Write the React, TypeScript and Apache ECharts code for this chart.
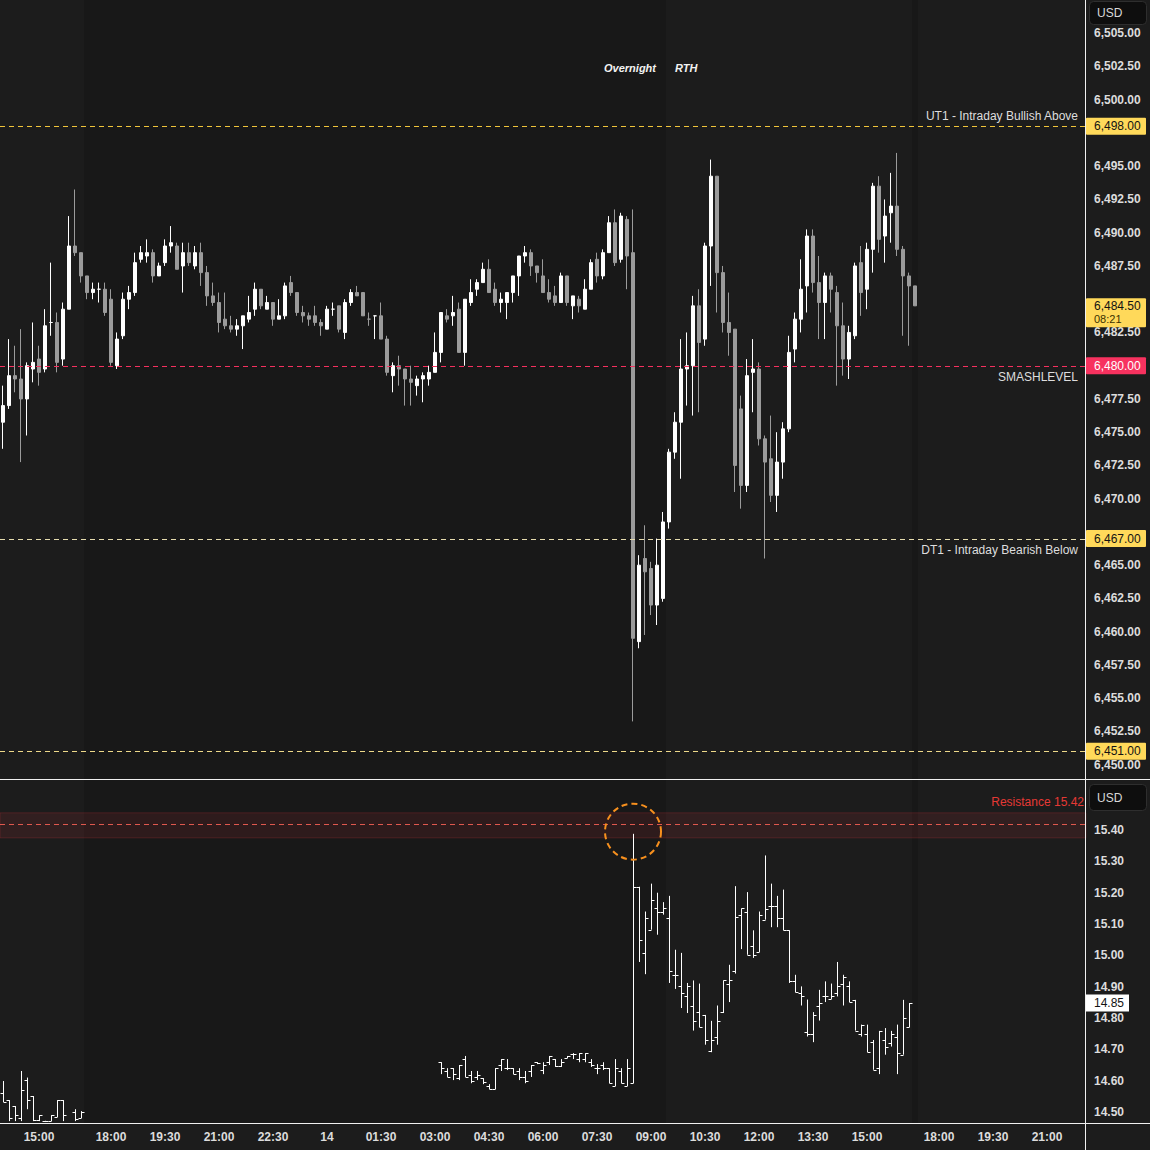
import React, { useEffect, useRef } from "react";
import * as echarts from "echarts";

const FONT = "'Liberation Sans', Arial, sans-serif";

// ---------- time axis (10-minute slots, 17:00-17:59 closed) ----------
const slotCount = 181;
function buildCategories(): string[] {
  const cats: string[] = [];
  let day = 13, h = 14, m = 0;
  while (cats.length < slotCount) {
    if (h !== 17) cats.push(`${day} ${String(h).padStart(2, "0")}:${String(m).padStart(2, "0")}`);
    m += 10;
    if (m === 60) { m = 0; h += 1; if (h === 24) { h = 0; day += 1; } }
  }
  return cats;
}
const categories = buildCategories();
const xTickIdx = [6, 18, 27, 36, 45, 54, 63, 72, 81, 90, 99, 108, 117, 126, 135, 144, 156, 165, 174];
const xTickText = ["15:00", "18:00", "19:30", "21:00", "22:30", "14", "01:30", "03:00", "04:30", "06:00", "07:30", "09:00", "10:30", "12:00", "13:30", "15:00", "18:00", "19:30", "21:00"];

// session shading (slot indices)
const overnightFirst = 14;
const overnightLast = 110;
const afterHoursSlot = 152;

// ---------- ES candles (slot 0 .. 152) ----------
const esOpen = [
  6475.75, 6477.0, 6479.25, 6479.0, 6477.5, 6479.75, 6480.5, 6479.75, 6483.25, 6483.25,
  6480.5, 6484.25, 6489.0, 6488.5, 6486.75, 6485.5, 6485.75, 6485.75, 6485.0, 6480.0,
  6482.25, 6485.0, 6485.5, 6488.0, 6488.25, 6488.5, 6486.75, 6487.75, 6489.0, 6489.0,
  6487.5, 6488.5, 6487.5, 6488.5, 6487.0, 6485.25, 6484.75, 6483.5, 6483.0, 6482.75,
  6483.0, 6483.5, 6484.25, 6485.75, 6484.25, 6484.75, 6483.5, 6483.75, 6486.25, 6485.5,
  6484.0, 6483.75, 6483.75, 6483.25, 6482.75, 6484.25, 6484.5, 6482.5, 6484.75, 6485.5,
  6485.5, 6483.5, 6483.75, 6483.75, 6482.0, 6479.25, 6480.0, 6479.75, 6479.0, 6478.5,
  6479.0, 6479.0, 6479.5, 6481.0, 6483.75, 6483.75, 6484.25, 6481.0, 6484.75, 6485.75,
  6486.25, 6487.25, 6485.75, 6484.75, 6484.75, 6485.5, 6486.75, 6488.25, 6488.5, 6487.5,
  6486.75, 6485.5, 6485.25, 6484.75, 6486.75, 6484.5, 6485.0, 6484.25, 6485.75, 6488.0,
  6486.75, 6488.5, 6490.75, 6488.0, 6491.0, 6488.5, 6459.25, 6465.5, 6464.75, 6462.0,
  6462.5, 6468.25, 6473.5, 6475.75, 6479.75, 6480.0, 6484.5, 6482.0, 6489.0, 6494.25,
  6487.0, 6483.25, 6482.75, 6476.75, 6471.0, 6479.5, 6479.75, 6474.5, 6473.0, 6470.25,
  6472.75, 6475.25, 6481.25, 6483.5, 6486.0, 6489.75, 6486.25, 6484.75, 6486.75, 6485.5,
  6483.0, 6480.5, 6482.25, 6487.75, 6485.75, 6488.75, 6493.5, 6489.75, 6491.5, 6492.0,
  6488.75, 6486.75, 6486.0,
];
const esClose = [
  6477.0, 6479.25, 6479.0, 6477.5, 6480.0, 6480.25, 6479.5, 6483.0, 6483.25, 6480.25,
  6484.25, 6489.0, 6488.5, 6486.75, 6485.5, 6485.75, 6485.75, 6484.0, 6480.25, 6482.0,
  6485.0, 6485.5, 6487.75, 6488.5, 6488.5, 6486.75, 6487.5, 6489.0, 6489.25, 6487.25,
  6488.5, 6487.75, 6488.5, 6487.0, 6485.25, 6484.75, 6483.25, 6483.0, 6482.75, 6483.0,
  6483.75, 6484.0, 6485.75, 6484.5, 6484.75, 6483.5, 6483.75, 6486.0, 6485.5, 6484.0,
  6483.75, 6483.5, 6483.25, 6483.0, 6484.25, 6484.25, 6482.75, 6484.75, 6485.5, 6485.25,
  6483.75, 6483.5, 6483.75, 6482.0, 6479.5, 6480.0, 6479.75, 6479.0, 6478.75, 6479.0,
  6479.25, 6479.5, 6481.0, 6484.0, 6483.5, 6484.0, 6481.0, 6485.0, 6485.5, 6486.25,
  6487.25, 6485.5, 6484.75, 6485.0, 6485.5, 6486.75, 6488.25, 6488.5, 6487.5, 6487.0,
  6485.5, 6485.0, 6484.75, 6486.75, 6484.75, 6485.25, 6484.5, 6485.75, 6487.75, 6486.75,
  6488.5, 6490.75, 6487.75, 6491.25, 6488.25, 6459.5, 6465.0, 6464.5, 6462.0, 6465.0,
  6468.25, 6473.5, 6475.75, 6479.75, 6480.0, 6484.5, 6481.75, 6489.0, 6494.25, 6487.0,
  6483.25, 6482.5, 6472.5, 6471.0, 6479.25, 6479.75, 6474.5, 6472.75, 6470.25, 6472.75,
  6475.25, 6481.0, 6483.5, 6485.75, 6489.75, 6486.25, 6484.75, 6486.75, 6485.75, 6483.0,
  6480.5, 6482.5, 6487.5, 6485.5, 6488.75, 6493.5, 6489.5, 6491.25, 6492.0, 6488.75,
  6486.75, 6486.0, 6484.5,
];
const esLow = [
  6473.75, 6476.75, 6478.0, 6472.75, 6474.75, 6478.75, 6478.5, 6479.5, 6482.25, 6479.5,
  6480.0, 6484.25, 6488.25, 6486.25, 6485.0, 6485.0, 6484.75, 6483.75, 6480.0, 6479.75,
  6482.0, 6484.25, 6485.25, 6487.75, 6487.75, 6486.25, 6486.75, 6487.5, 6488.5, 6487.25,
  6485.5, 6487.5, 6487.25, 6486.0, 6484.5, 6484.5, 6482.5, 6482.75, 6482.5, 6482.25,
  6481.25, 6483.25, 6483.75, 6484.25, 6484.25, 6483.0, 6483.5, 6483.5, 6485.25, 6483.75,
  6483.25, 6483.0, 6483.0, 6482.25, 6482.75, 6483.75, 6482.5, 6482.0, 6484.5, 6485.25,
  6483.75, 6483.0, 6482.0, 6482.0, 6479.25, 6478.0, 6478.5, 6477.0, 6477.0, 6477.75,
  6477.25, 6478.5, 6479.5, 6480.25, 6483.25, 6483.0, 6481.0, 6480.0, 6484.5, 6485.25,
  6486.25, 6485.5, 6484.5, 6484.0, 6483.5, 6484.75, 6485.25, 6487.75, 6486.75, 6486.25,
  6485.5, 6484.75, 6484.5, 6484.75, 6484.5, 6483.5, 6484.0, 6484.25, 6485.75, 6486.25,
  6486.5, 6488.5, 6487.5, 6487.75, 6485.75, 6453.25, 6458.75, 6459.75, 6461.25, 6460.5,
  6462.25, 6467.75, 6473.0, 6471.5, 6477.0, 6476.25, 6476.5, 6481.5, 6486.0, 6484.0,
  6482.5, 6480.75, 6470.5, 6469.25, 6470.5, 6476.5, 6474.0, 6465.5, 6469.75, 6469.0,
  6471.5, 6475.0, 6480.25, 6482.5, 6484.0, 6485.5, 6482.0, 6482.0, 6484.0, 6478.5,
  6479.25, 6479.0, 6482.0, 6483.75, 6484.25, 6487.0, 6488.5, 6487.75, 6489.25, 6488.25,
  6482.25, 6481.5, 6484.5,
];
const esHigh = [
  6478.5, 6482.0, 6481.5, 6482.75, 6480.25, 6483.25, 6481.5, 6484.25, 6487.75, 6484.0,
  6484.75, 6491.25, 6493.25, 6488.5, 6486.75, 6486.25, 6486.25, 6486.25, 6485.75, 6482.5,
  6485.5, 6486.0, 6488.5, 6489.0, 6489.5, 6488.75, 6487.75, 6489.5, 6490.5, 6489.25,
  6489.25, 6489.25, 6489.0, 6489.25, 6487.5, 6486.25, 6485.5, 6485.5, 6483.75, 6483.5,
  6483.75, 6485.25, 6486.25, 6485.75, 6485.25, 6484.75, 6485.0, 6486.25, 6486.75, 6485.5,
  6484.5, 6484.0, 6484.5, 6483.5, 6484.5, 6484.75, 6484.5, 6485.0, 6485.75, 6486.0,
  6485.5, 6484.0, 6483.75, 6484.75, 6482.25, 6480.25, 6480.75, 6479.75, 6480.0, 6479.25,
  6479.5, 6480.0, 6482.5, 6484.0, 6484.25, 6485.25, 6484.75, 6485.0, 6486.5, 6486.5,
  6487.75, 6488.0, 6486.25, 6485.5, 6485.5, 6486.75, 6488.25, 6489.0, 6488.75, 6487.5,
  6488.0, 6486.5, 6486.0, 6487.0, 6486.75, 6485.25, 6485.25, 6486.5, 6488.0, 6488.5,
  6488.75, 6491.25, 6491.75, 6491.5, 6491.25, 6491.75, 6465.75, 6468.0, 6465.25, 6467.0,
  6469.0, 6473.75, 6476.5, 6482.0, 6482.5, 6485.25, 6485.75, 6489.25, 6495.5, 6494.25,
  6487.5, 6485.5, 6482.75, 6477.75, 6480.5, 6482.0, 6480.25, 6474.75, 6476.25, 6475.0,
  6475.75, 6482.25, 6484.0, 6488.0, 6490.25, 6490.25, 6488.25, 6487.0, 6487.0, 6486.0,
  6484.75, 6483.0, 6487.75, 6489.0, 6489.25, 6493.75, 6494.25, 6492.5, 6494.5, 6496.0,
  6489.0, 6487.0, 6486.0,
];

// ---------- ES levels ----------
const levelValues = [6498, 6480, 6467, 6451];
const levelNames = ["UT1 - Intraday Bullish Above", "SMASHLEVEL", "DT1 - Intraday Bearish Below", ""];
const levelColors = ["#f0c43a", "#f5305e", "#e6dcae", "#eed98a"];
const levelTagColors = ["#ffd95a", "#f7325f", "#ffd95a", "#ffd95a"];
const levelTagText = ["#131313", "#ffffff", "#131313", "#131313"];
const levelLabelAbove = [true, false, false, true];
const lastPrice = 6484.5;
const countdown = "08:21";
// axis labels that sit under a price tag
const hiddenAxisValues = [6497.5, 6485, 6480, 6467.5];

// ---------- VIX bars ----------
const vixIdx = [
  0, 1, 2, 3, 4, 5, 6, 7, 8, 9, 10, 12, 13,
  73, 74, 75, 76, 77, 78, 79, 80, 81, 82, 83, 84, 85, 86, 87, 88, 89, 90, 91, 92, 93, 94, 95, 96, 97, 98, 99,
  100, 101, 102, 103, 104, 105, 106, 107, 108, 109, 110, 111, 112, 113, 114, 115, 116, 117, 118, 119,
  120, 121, 122, 123, 124, 125, 126, 127, 128, 129, 130, 131, 132, 133, 134, 135, 136, 137, 138, 139,
  140, 141, 142, 143, 144, 145, 146, 147, 148, 149, 150, 151,
];
const vixOpen = [
  14.561, 14.538, 14.519, 14.481, 14.602, 14.551, 14.475, 14.470, 14.471, 14.484, 14.538, 14.500, 14.481,
  14.659, 14.631, 14.640, 14.608, 14.669, 14.618, 14.612, 14.608, 14.583, 14.573, 14.650, 14.640, 14.640, 14.631, 14.612, 14.631, 14.659, 14.634, 14.659, 14.669, 14.647, 14.672, 14.685, 14.669, 14.669, 14.659, 14.640,
  14.650, 14.640, 14.583, 14.631, 14.583, 14.592, 15.219, 15.008, 15.082, 15.150, 15.140, 15.120, 14.938, 14.901, 14.871, 14.840, 14.819, 14.810, 14.696, 14.739,
  14.819, 14.910, 14.949, 15.130, 15.140, 15.029, 15.011, 15.114, 15.157, 15.157, 15.120, 15.080, 14.917, 14.880, 14.757, 14.750, 14.839, 14.869, 14.861, 14.880,
  14.910, 14.901, 14.858, 14.750, 14.750, 14.723, 14.640, 14.730, 14.720, 14.739, 14.683, 14.771,
];
const vixHigh = [
  14.599, 14.538, 14.519, 14.631, 14.610, 14.551, 14.490, 14.472, 14.490, 14.538, 14.538, 14.509, 14.503,
  14.659, 14.640, 14.640, 14.650, 14.679, 14.631, 14.631, 14.608, 14.589, 14.640, 14.669, 14.669, 14.640, 14.640, 14.631, 14.650, 14.659, 14.659, 14.679, 14.669, 14.669, 14.679, 14.688, 14.688, 14.688, 14.669, 14.653,
  14.659, 14.640, 14.669, 14.640, 14.669, 15.388, 15.219, 15.140, 15.229, 15.200, 15.170, 15.190, 15.018, 15.008, 14.912, 14.920, 14.910, 14.810, 14.791, 14.840,
  14.920, 14.970, 15.221, 15.150, 15.202, 15.080, 15.140, 15.319, 15.229, 15.190, 15.210, 15.080, 14.938, 14.901, 14.859, 14.819, 14.890, 14.917, 14.910, 14.979,
  14.938, 14.917, 14.858, 14.779, 14.779, 14.730, 14.759, 14.768, 14.759, 14.779, 14.858, 14.848,
];
const vixLow = [
  14.532, 14.471, 14.471, 14.471, 14.509, 14.471, 14.471, 14.468, 14.471, 14.484, 14.471, 14.471, 14.481,
  14.621, 14.612, 14.602, 14.602, 14.612, 14.592, 14.602, 14.589, 14.573, 14.573, 14.631, 14.634, 14.621, 14.602, 14.592, 14.612, 14.653, 14.621, 14.650, 14.644, 14.644, 14.672, 14.669, 14.659, 14.659, 14.644, 14.621,
  14.634, 14.592, 14.583, 14.592, 14.583, 14.592, 14.979, 14.940, 15.082, 15.066, 15.130, 14.912, 14.893, 14.832, 14.816, 14.760, 14.771, 14.715, 14.691, 14.715,
  14.816, 14.851, 14.942, 15.020, 15.002, 14.992, 15.011, 15.114, 15.090, 15.090, 15.080, 14.912, 14.882, 14.840, 14.741, 14.723, 14.792, 14.851, 14.861, 14.869,
  14.840, 14.851, 14.760, 14.741, 14.691, 14.635, 14.621, 14.683, 14.709, 14.621, 14.683, 14.771,
];
const vixClose = [
  14.532, 14.480, 14.490, 14.570, 14.538, 14.475, 14.490, 14.470, 14.490, 14.538, 14.490, 14.477, 14.500,
  14.640, 14.612, 14.621, 14.650, 14.612, 14.599, 14.618, 14.596, 14.573, 14.640, 14.669, 14.640, 14.621, 14.612, 14.599, 14.650, 14.656, 14.650, 14.679, 14.647, 14.659, 14.679, 14.685, 14.688, 14.688, 14.650, 14.640,
  14.640, 14.592, 14.640, 14.592, 14.640, 15.219, 15.050, 15.120, 15.178, 15.140, 15.150, 14.949, 14.938, 14.880, 14.901, 14.791, 14.771, 14.730, 14.730, 14.791,
  14.920, 14.920, 15.122, 15.150, 15.002, 15.002, 15.130, 15.148, 15.157, 15.120, 15.080, 14.917, 14.882, 14.871, 14.750, 14.810, 14.848, 14.871, 14.871, 14.901,
  14.931, 14.851, 14.760, 14.779, 14.691, 14.635, 14.759, 14.709, 14.749, 14.688, 14.800, 14.848,
];
const resistance = 15.42;
const resistanceBand = [15.375, 15.455];
const spikeSlot = 105;
const spikeMark = 15.395;

const fmtPrice = (v: number) =>
  v.toLocaleString("en-US", { minimumFractionDigits: 2, maximumFractionDigits: 2 });

export default function App() {
  const ref = useRef<HTMLDivElement>(null);

  useEffect(() => {
    if (!ref.current) return;
    const chart = echarts.init(ref.current, undefined, { renderer: "svg" });
    const tickSet = new Set(xTickIdx);
    const axisTxt = "#dcdcdc";

    const esData = esOpen.map((o, i) => [o, esClose[i], esLow[i], esHigh[i]]);
    const vixData = vixIdx.map((k, i) => [k, vixOpen[i], vixHigh[i], vixLow[i], vixClose[i]]);

    const option: any = {
      animation: false,
      backgroundColor: "#1c1c1c",
      textStyle: { fontFamily: FONT },
      grid: [
        { left: 0, top: 0, width: 1086, height: 779 },
        { left: 0, top: 779, width: 1086, height: 344 },
      ],
      xAxis: [
        { type: "category", gridIndex: 0, data: categories, boundaryGap: true, show: false },
        {
          type: "category",
          gridIndex: 1,
          data: categories,
          boundaryGap: true,
          axisLine: { show: false },
          axisTick: { show: false },
          splitLine: { show: false },
          axisLabel: {
            interval: (i: number) => tickSet.has(i),
            formatter: (_v: string, i: number) => xTickText[xTickIdx.indexOf(i)] ?? "",
            color: axisTxt,
            fontSize: 12,
            fontWeight: "bold",
            fontFamily: FONT,
            margin: 8,
          },
        },
      ],
      yAxis: [
        {
          type: "value",
          gridIndex: 0,
          position: "right",
          min: 6448.92,
          max: 6507.5,
          minInterval: 2.5,
          maxInterval: 2.5,
          splitNumber: 24,
          splitLine: { show: false },
          axisLine: { show: false },
          axisTick: { show: false },
          axisLabel: {
            showMinLabel: false,
            showMaxLabel: false,
            margin: 8,
            color: axisTxt,
            fontSize: 12,
            fontWeight: "bold",
            fontFamily: FONT,
            formatter: (v: number) => {
              if (Math.abs(v / 2.5 - Math.round(v / 2.5)) > 1e-6 || v > 6506) return "";
              if (hiddenAxisValues.some((h) => Math.abs(h - v) < 1e-6)) return "";
              return fmtPrice(v);
            },
          },
        },
        {
          type: "value",
          gridIndex: 1,
          position: "right",
          min: 14.465,
          max: 15.563,
          minInterval: 0.1,
          maxInterval: 0.1,
          splitNumber: 11,
          splitLine: { show: false },
          axisLine: { show: false },
          axisTick: { show: false },
          axisLabel: {
            showMinLabel: false,
            showMaxLabel: false,
            margin: 8,
            color: axisTxt,
            fontSize: 12,
            fontWeight: "bold",
            fontFamily: FONT,
            formatter: (v: number) =>
              Math.abs(v * 10 - Math.round(v * 10)) > 1e-6 || v > 15.45 ? "" : v.toFixed(2),
          },
        },
      ],
      series: [
        {
          type: "candlestick",
          xAxisIndex: 0,
          yAxisIndex: 0,
          data: esData,
          barWidth: 4,
          itemStyle: {
            color: "#ffffff",
            color0: "#9b9b9b",
            borderColor: "#ffffff",
            borderColor0: "#9b9b9b",
            borderWidth: 1,
          },
        },
        {
          type: "custom",
          xAxisIndex: 1,
          yAxisIndex: 1,
          clip: true,
          data: vixData,
          encode: { x: 0, y: [1, 2, 3, 4] },
          renderItem: (_p: any, api: any) => {
            const k = api.value(0);
            const o = api.coord([k, api.value(1)]);
            const h = api.coord([k, api.value(2)]);
            const l = api.coord([k, api.value(3)]);
            const c = api.coord([k, api.value(4)]);
            const x = Math.round(o[0]) + 0.5;
            const yo = Math.round(o[1]) + 0.5;
            const yc = Math.round(c[1]) + 0.5;
            const style = { stroke: "#ffffff", lineWidth: 1 };
            return {
              type: "group",
              children: [
                { type: "line", shape: { x1: x, y1: h[1], x2: x, y2: Math.max(l[1], h[1] + 1) }, style },
                { type: "line", shape: { x1: x - 3, y1: yo, x2: x, y2: yo }, style },
                { type: "line", shape: { x1: x, y1: yc, x2: x + 3, y2: yc }, style },
              ],
            };
          },
          markArea: {
            silent: true,
            itemStyle: {
              color: "rgba(242,54,69,0.10)",
              borderColor: "rgba(242,54,69,0.18)",
              borderWidth: 1,
            },
            data: [[{ yAxis: resistanceBand[0] }, { yAxis: resistanceBand[1] }]],
          },
        },
      ],
    };

    chart.setOption(option);

    const yT = (v: number) => chart.convertToPixel({ yAxisIndex: 0 }, v) as unknown as number;
    const yB = (v: number) => chart.convertToPixel({ yAxisIndex: 1 }, v) as unknown as number;
    const xC = (k: number) => chart.convertToPixel({ xAxisIndex: 0 }, k) as unknown as number;
    const half = 3;
    const crisp = (v: number) => Math.round(v) + 0.5;

    const txt = (x: number, y: number, text: string, fill: string, font: string, align = "left", z = 120) => ({
      type: "text",
      x,
      y,
      z,
      silent: true,
      style: {
        text,
        fill,
        font,
        align,
        verticalAlign: "middle",
        textAlign: align,
        textVerticalAlign: "middle",
      },
    });

    const elements: any[] = [];
    // session backgrounds
    elements.push({
      type: "rect",
      z: -5,
      silent: true,
      shape: { x: xC(overnightFirst) - half, y: 0, width: xC(overnightLast) + half - (xC(overnightFirst) - half), height: 1123 },
      style: { fill: "#181818" },
    });
    elements.push({
      type: "rect",
      z: -5,
      silent: true,
      shape: { x: xC(afterHoursSlot) - half, y: 0, width: 2 * half, height: 1123 },
      style: { fill: "#181818" },
    });
    // panel frame lines
    const frame = { stroke: "#f0f0f0", lineWidth: 1 };
    elements.push({ type: "line", z: 110, silent: true, shape: { x1: 0, y1: 779.5, x2: 1150, y2: 779.5 }, style: frame });
    elements.push({ type: "line", z: 110, silent: true, shape: { x1: 0, y1: 1123.5, x2: 1150, y2: 1123.5 }, style: frame });
    elements.push({ type: "line", z: 110, silent: true, shape: { x1: 1085.5, y1: 0, x2: 1085.5, y2: 1150 }, style: frame });

    // session labels
    const boundary = xC(overnightLast) + half;
    elements.push(txt(boundary - 10, 68, "Overnight", "#f2f2f2", `italic bold 11px ${FONT}`, "right"));
    elements.push(txt(boundary + 9, 68, "RTH", "#f2f2f2", `italic bold 11px ${FONT}`, "left"));

    // level lines, their labels and tags on the price axis
    levelValues.forEach((v, i) => {
      const y = yT(v);
      elements.push({
        type: "line",
        z: 50,
        silent: true,
        shape: { x1: 0, y1: crisp(y), x2: 1085, y2: crisp(y) },
        style: { stroke: levelColors[i], lineWidth: 1, lineDash: [5, 4] },
      });
      if (levelNames[i]) {
        elements.push(
          txt(1078, levelLabelAbove[i] ? y - 10 : y + 11, levelNames[i], "#dedede", `12px ${FONT}`, "right", 60)
        );
      }
      elements.push({
        type: "rect",
        z: 115,
        silent: true,
        shape: { x: 1086, y: y - 8.5, width: 60, height: 17, r: 1 },
        style: { fill: levelTagColors[i] },
      });
      elements.push(txt(1094, y, fmtPrice(v), levelTagText[i], `12px ${FONT}`));
    });
    // last price tag with countdown
    const yl = yT(lastPrice);
    elements.push({
      type: "rect",
      z: 115,
      silent: true,
      shape: { x: 1086, y: yl - 7.5, width: 60, height: 29, r: 1 },
      style: { fill: "#ffd95a" },
    });
    elements.push(txt(1094, yl, fmtPrice(lastPrice), "#131313", `12px ${FONT}`));
    elements.push(txt(1094, yl + 13, countdown, "#3b3100", `11px ${FONT}`));

    // VIX resistance line
    const yr = yB(resistance);
    elements.push({
      type: "line",
      z: 50,
      silent: true,
      shape: { x1: 0, y1: crisp(yr), x2: 1085, y2: crisp(yr) },
      style: { stroke: "#e0584e", lineWidth: 1, lineDash: [5, 4] },
    });

    // VIX last value tag
    const yv = yB(vixClose[vixClose.length - 1]);
    elements.push({
      type: "rect",
      z: 115,
      silent: true,
      shape: { x: 1086, y: yv - 8.5, width: 43, height: 17 },
      style: { fill: "#ffffff" },
    });
    elements.push(txt(1094, yv, vixClose[vixClose.length - 1].toFixed(2), "#131313", `12px ${FONT}`));

    // currency boxes
    [[1, 23], [784, 26]].forEach(([y, h]) => {
      elements.push({
        type: "rect",
        z: 115,
        silent: true,
        shape: { x: 1089.5, y: y + 0.5, width: 57, height: h, r: 4 },
        style: { fill: "#0e0e0e", stroke: "#2e2e2e", lineWidth: 1 },
      });
      elements.push(txt(1097, y + h / 2 + 0.5, "USD", "#d9d9d9", `12px ${FONT}`));
    });

    // resistance label
    elements.push(txt(1084, yB(resistanceBand[1]) - 11, `Resistance ${resistance.toFixed(2)}`, "#e53935", `12px ${FONT}`, "right"));

    // highlight circle around the spike
    elements.push({
      type: "circle",
      z: 112,
      silent: true,
      shape: { cx: xC(spikeSlot), cy: yB(spikeMark), r: 28 },
      style: { fill: "none", stroke: "#f7901e", lineWidth: 2, lineDash: [6, 4] },
    });

    chart.setOption({ graphic: { elements } });

    return () => chart.dispose();
  }, []);

  return <div ref={ref} style={{ position: "fixed", left: 0, top: 0, width: 1150, height: 1150 }} />;
}
